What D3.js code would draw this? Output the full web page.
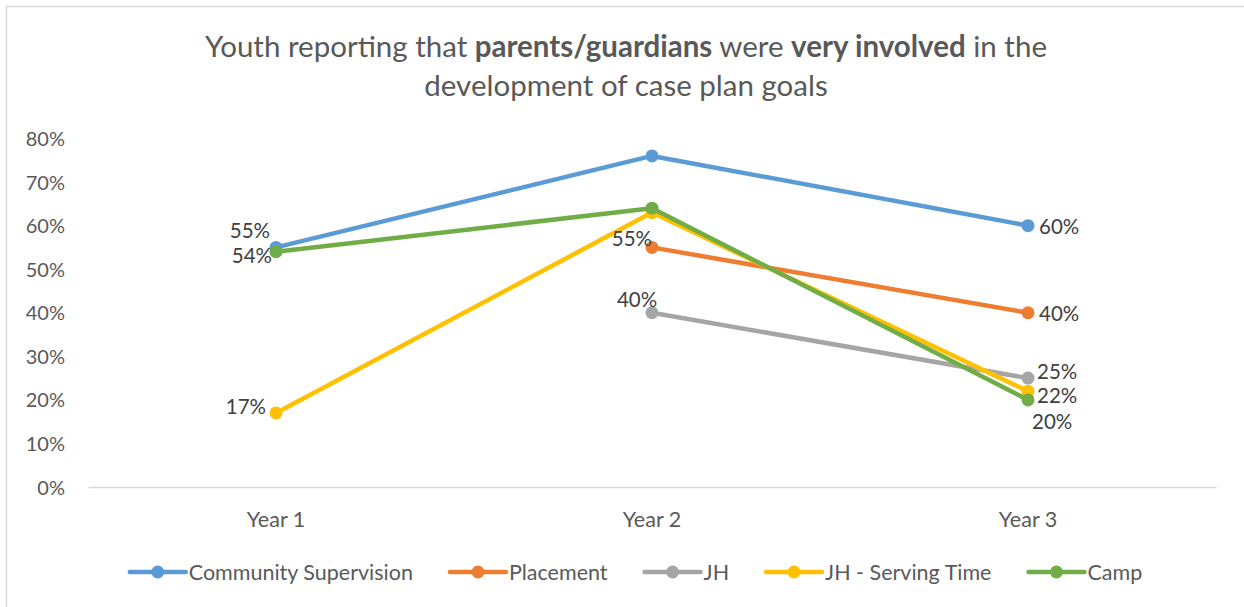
<!DOCTYPE html>
<html>
<head>
<meta charset="utf-8">
<script src="https://cdn.jsdelivr.net/npm/d3@7"></script>
<style>
  html, body { margin: 0; padding: 0; background: #fff; }
  svg { display: block; font-family: Lato, "Open Sans", sans-serif; }
</style>
</head>
<body>
<svg id="chart" width="1244" height="607"></svg>
<script>
// ---- data ----
const categories = ["Year 1", "Year 2", "Year 3"];
const seriesNames = ["Community Supervision", "Placement", "JH", "JH - Serving Time", "Camp"];
const communitySupervision = [0.55, 0.76, 0.60];
const placement = [null, 0.55, 0.40];
const jh = [null, 0.40, 0.25];
const jhServingTime = [0.17, 0.63, 0.22];
const camp = [0.54, 0.64, 0.20];
const yTicks = [0, 0.1, 0.2, 0.3, 0.4, 0.5, 0.6, 0.7, 0.8];
// labels shown: [seriesIndex, categoryIndex]
const shownLabels = [
  [0, 0], [4, 0], [3, 0],
  [1, 1], [2, 1],
  [0, 2], [1, 2], [2, 2], [3, 2], [4, 2]
];

// ---- styles / positions ----
const colors = ["#5B9BD5", "#ED7D31", "#A5A5A5", "#FFC000", "#70AD47"];
const labelOffsets = { // [dx, dy, anchor]
  "0-0": [-6, -17, "end"], "4-0": [-4, 4, "end"], "3-0": [-10, -6, "end"],
  "1-1": [0, -9, "end"], "2-1": [-15, -13, "middle"],
  "0-2": [11, 1, "start"], "1-2": [11, 1, "start"], "2-2": [9, -6, "start"],
  "3-2": [9, 5, "start"], "4-2": [4, 22, "start"]
};
const textColor = "#595959";

const allSeries = [communitySupervision, placement, jh, jhServingTime, camp];

const svg = d3.select("#chart");

// frame
svg.append("rect").attr("x", 6.5).attr("y", 6.5).attr("width", 1400).attr("height", 800)
  .attr("fill", "none").attr("stroke", "#d9d9d9").attr("stroke-width", 1.5);

const x = d3.scaleBand().domain(categories).range([88, 1216]).padding(0);
const y = d3.scaleLinear().domain([0, 0.8]).range([487, 138.5]);
const xc = c => x(c) + x.bandwidth() / 2;

// title
const title = svg.append("text").attr("text-anchor", "middle").attr("fill", textColor)
  .style("font-size", "29.5px");
const t1 = title.append("tspan").attr("x", 626).attr("y", 57);
t1.append("tspan").text("Youth reporting that ");
t1.append("tspan").attr("font-weight", "bold").text("parents/guardians");
t1.append("tspan").text(" were ");
t1.append("tspan").attr("font-weight", "bold").text("very involved");
t1.append("tspan").text(" in the");
title.append("tspan").attr("x", 626).attr("y", 96).text("development of case plan goals");

// y axis (labels only)
const yAxis = d3.axisLeft(y).tickValues(yTicks).tickFormat(d3.format(".0%")).tickSize(0).tickPadding(0);
const gy = svg.append("g").attr("transform", "translate(65,0)").call(yAxis);
gy.select(".domain").remove();
gy.selectAll("text").attr("fill", textColor).style("font-size", "20px").attr("dy", "0.35em")
  .style("font-family", "Lato, sans-serif");

// x axis
const xAxis = d3.axisBottom(x).tickSize(0).tickPadding(0);
const gx = svg.append("g").attr("transform", "translate(0,487)").call(xAxis);
gx.select(".domain").attr("stroke", "#d9d9d9").attr("stroke-width", 1.5);
gx.selectAll("text").attr("fill", textColor).style("font-size", "21.5px").attr("y", 40).attr("dy", 0)
  .style("font-family", "Lato, sans-serif");

// lines
const line = d3.line()
  .defined(d => d.v != null)
  .x(d => xc(d.c)).y(d => y(d.v));

allSeries.forEach((vals, i) => {
  const pts = vals.map((v, j) => ({ c: categories[j], v }));
  svg.append("path").datum(pts).attr("d", line).attr("fill", "none")
    .attr("stroke", colors[i]).attr("stroke-width", 4.5).attr("stroke-linejoin", "round").attr("stroke-linecap", "round");
  svg.selectAll(null).data(pts.filter(d => d.v != null)).enter().append("circle")
    .attr("cx", d => xc(d.c)).attr("cy", d => y(d.v)).attr("r", 6.5).attr("fill", colors[i]);
});

// data labels
shownLabels.forEach(([si, ci]) => {
  const v = allSeries[si][ci];
  const off = labelOffsets[si + "-" + ci];
  svg.append("text")
    .attr("x", xc(categories[ci]) + off[0]).attr("y", y(v) + off[1])
    .attr("dy", "0.35em").attr("text-anchor", off[2])
    .attr("fill", "#404040").style("font-size", "20.5px")
    .text(d3.format(".0%")(v));
});

// legend
const legend = svg.append("g");
const items = [];
let cursor = 0;
seriesNames.forEach((name, i) => {
  const g = legend.append("g");
  g.append("line").attr("x1", 0).attr("x2", 56).attr("y1", 0).attr("y2", 0)
    .attr("stroke", colors[i]).attr("stroke-width", 4.5).attr("stroke-linecap", "round");
  g.append("circle").attr("cx", 28).attr("cy", 0).attr("r", 6.5).attr("fill", colors[i]);
  const t = g.append("text").attr("x", 59).attr("y", 0).attr("dy", "0.35em")
    .attr("fill", textColor).style("font-size", "21.5px").text(name);
  const w = 59 + t.node().getComputedTextLength();
  items.push({ g, start: cursor });
  cursor += w + 37;
});
const total = cursor - 37;
const startX = 636 - total / 2;
items.forEach(it => it.g.attr("transform", `translate(${startX + it.start},572)`));
</script>
</body>
</html>
